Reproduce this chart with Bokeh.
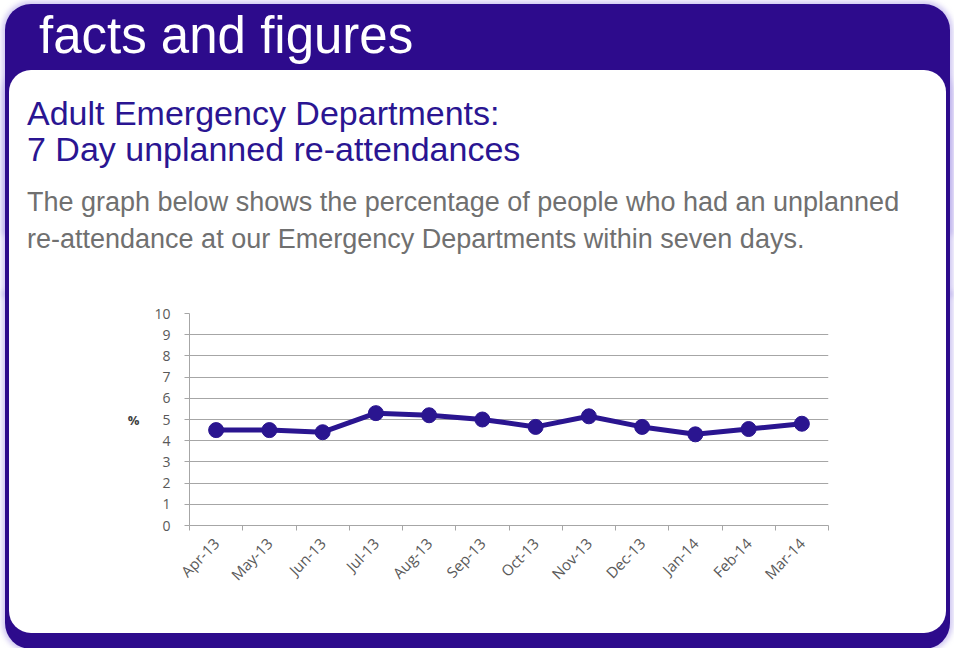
from bokeh.plotting import figure
from bokeh.models import FixedTicker, Range1d, Div
from bokeh.layouts import column
from bokeh.embed import file_html
from bokeh.resources import INLINE

months = ["Apr-13", "May-13", "Jun-13", "Jul-13", "Aug-13", "Sep-13",
          "Oct-13", "Nov-13", "Dec-13", "Jan-14", "Feb-14", "Mar-14"]
reattend_pct = [4.5, 4.5, 4.4, 5.3, 5.2, 5.0, 4.65, 5.15, 4.65, 4.3, 4.55, 4.8]
y_ticks = list(range(0, 11))

header_text = "facts and figures"
title_lines = ["Adult Emergency Departments:", "7 Day unplanned re-attendances"]
intro_lines = ["The graph below shows the percentage of people who had an unplanned",
               "re-attendance at our Emergency Departments within seven days."]

PURPLE = "#2D0B8C"
HALO = "rgba(185,172,235,0.65)"
LINE = "#2A1590"
TITLE = "#2A1592"
GREY_TXT = "#707070"

W = 954
TOP_H = 290
BOT_H = 648 - TOP_H

# ---------------- header / text block ----------------
def span(txt, x, baseline, size, color):
    top_px = baseline - 0.8465 * size + 2.5
    return (f'<div style="position:absolute;left:{x}px;top:{top_px:.1f}px;'
            f"font-family:'Liberation Sans';font-size:{size}px;line-height:1;"
            f'color:{color};white-space:nowrap;margin:0;padding:0">{txt}</div>')

html = "".join([
    span(header_text, 39, 51, 51, "white"),
    span(title_lines[0], 27, 122, 34, TITLE),
    span(title_lines[1], 27, 158, 34, TITLE),
    span(intro_lines[0], 27, 209, 27, GREY_TXT),
    span(intro_lines[1], 27, 246, 27, GREY_TXT),
])

top = Div(text=html, width=W, height=TOP_H,
          styles={"position": "relative", "margin": "0", "padding": "0"},
          stylesheets=[
              ":host::before{content:'';position:absolute;left:9px;top:70px;width:937px;height:220px;"
              "background:white;border-radius:22px 22px 0 0;"
              f"box-shadow:0 -62px 0 4px {PURPLE},0 -31px 0 4px {PURPLE},0 0 0 4px {PURPLE},"
              f"0 -62px 5px 7px {HALO},0 0 5px 7px {HALO};}}"
          ])

# ---------------- chart figure ----------------
FL, FR, FT, FB = 189, 828, 23, 235
xs = list(range(1, len(months) + 1))

p = figure(width=W, height=BOT_H, output_backend="svg", toolbar_location=None,
           x_range=Range1d(0.5, len(months) + 0.5), y_range=Range1d(0, 10),
           frame_width=FR - FL, frame_height=FB - FT,
           min_border_left=FL, min_border_right=W - FR,
           min_border_top=FT, min_border_bottom=BOT_H - FB)
p.border_fill_color = None
p.background_fill_color = None
p.outline_line_color = None
p.stylesheets = [
    ":host::before{content:'';position:absolute;left:9px;top:-4px;width:937px;height:347px;"
    "background:white;border-radius:0 0 22px 22px;"
    f"box-shadow:0 4px 0 4px {PURPLE},0 12px 0 4px {PURPLE},0 12px 5px 7px {HALO};}}"
]

p.xgrid.grid_line_color = None
p.ygrid.grid_line_color = "#A6A6A6"
p.ygrid.grid_line_width = 1.2
p.yaxis.ticker = FixedTicker(ticks=y_ticks)
p.xaxis.ticker = FixedTicker(ticks=xs, minor_ticks=[x - 0.5 for x in xs] + [len(xs) + 0.5])
p.xaxis.major_label_overrides = {i: m for i, m in zip(xs, months)}
p.xaxis.major_label_orientation = 0.8
p.xaxis.major_tick_out = 0
p.xaxis.major_tick_in = 0
p.xaxis.minor_tick_out = 5
p.xaxis.minor_tick_in = 0
p.xaxis.minor_tick_line_color = "#A6A6A6"
p.xaxis.axis_line_color = "#A6A6A6"
p.yaxis.axis_line_color = "#A6A6A6"
p.yaxis.major_tick_line_color = "#A6A6A6"
p.yaxis.major_tick_out = 5
p.yaxis.major_tick_in = 0
p.yaxis.minor_tick_line_color = None
for ax in list(p.xaxis) + list(p.yaxis):
    ax.major_label_text_font = "Open Sans"
    ax.major_label_text_font_size = "14px"
    ax.major_label_text_color = "#595959"
p.xaxis.major_label_text_font_size = "15px"
p.xaxis.major_label_standoff = 10
p.yaxis.major_label_standoff = 14
p.yaxis.axis_label = "%"
p.yaxis.axis_label_orientation = "horizontal"
p.yaxis.axis_label_text_font = "Open Sans"
p.yaxis.axis_label_text_font_style = "bold"
p.yaxis.axis_label_text_font_size = "13px"
p.yaxis.axis_label_text_color = "#404040"
p.yaxis.axis_label_standoff = 12

p.line(xs, reattend_pct, line_color=LINE, line_width=5)
p.scatter(xs, reattend_pct, size=15, fill_color=LINE, line_color=LINE)

layout = column(top, p, spacing=0)
open("out.html", "w").write(file_html(layout, INLINE))
